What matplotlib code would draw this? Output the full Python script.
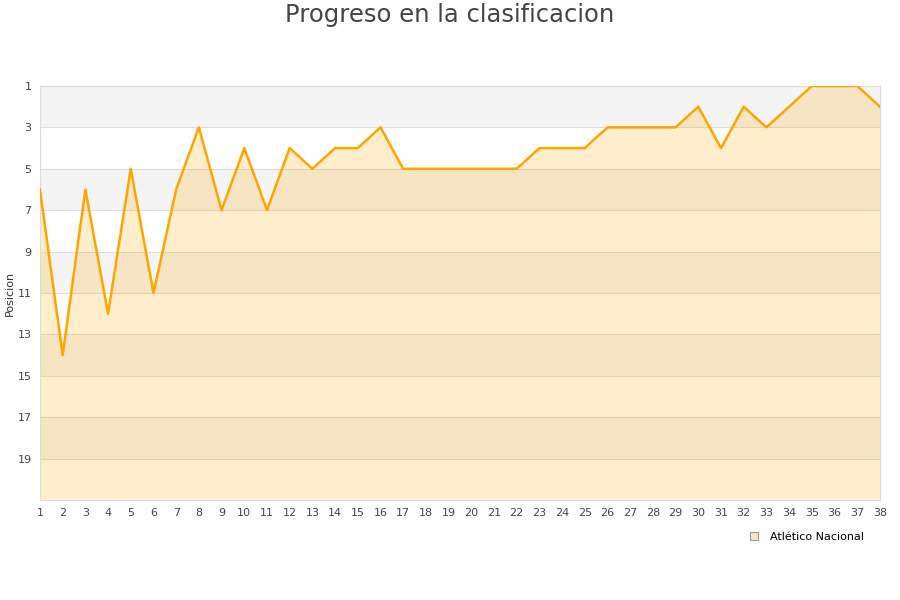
import matplotlib.pyplot as plt
from matplotlib.lines import Line2D

jornadas = list(range(1, 39))
posiciones = [6, 14, 6, 12, 5, 11, 6, 3, 7, 4, 7, 4, 5, 4, 4, 3, 5, 5, 5, 5,
              5, 5, 4, 4, 4, 3, 3, 3, 3, 2, 4, 2, 3, 2, 1, 1, 1, 2]
equipo = 'Atlético Nacional'
y_ticks = list(range(1, 21, 2))

fig = plt.figure(figsize=(9, 6), dpi=100)
ax = fig.add_axes([0.0444, 0.1667, 0.9333, 0.69])

# alternating bands every 2 positions
for y0 in range(1, 21, 4):
    ax.axhspan(y0, y0 + 2, color='#f4f4f4', lw=0, zorder=0)
for y in y_ticks:
    ax.axhline(y, color='#dddddd', lw=0.8, zorder=1)

ax.fill_between(jornadas, posiciones, 21, color='#ffa500', alpha=0.2, lw=0, zorder=2)
ax.plot(jornadas, posiciones, color='#ffa500', lw=1.8, zorder=3)

ax.set_xlim(1, 38)
ax.set_ylim(21, 1)
ax.set_xticks(jornadas)
ax.set_yticks(y_ticks)
ax.tick_params(length=0, labelsize=8, colors='#444444', pad=6)
for s in ax.spines.values():
    s.set_color('#dddddd')
ax.set_ylabel('Posicion', fontsize=8, color='#333333', labelpad=2)

fig.suptitle('Progreso en la clasificacion', fontsize=17.5, color='#444444', y=0.995)

handle = Line2D([], [], marker='s', ls='none', markersize=6,
                markerfacecolor='#f7e4c4', markeredgecolor='#999999', markeredgewidth=0.8)
fig.legend([handle], [equipo], loc='center', bbox_to_anchor=(0.893, 0.105),
           frameon=False, fontsize=8, handletextpad=0.4)

fig.savefig('out.png')
